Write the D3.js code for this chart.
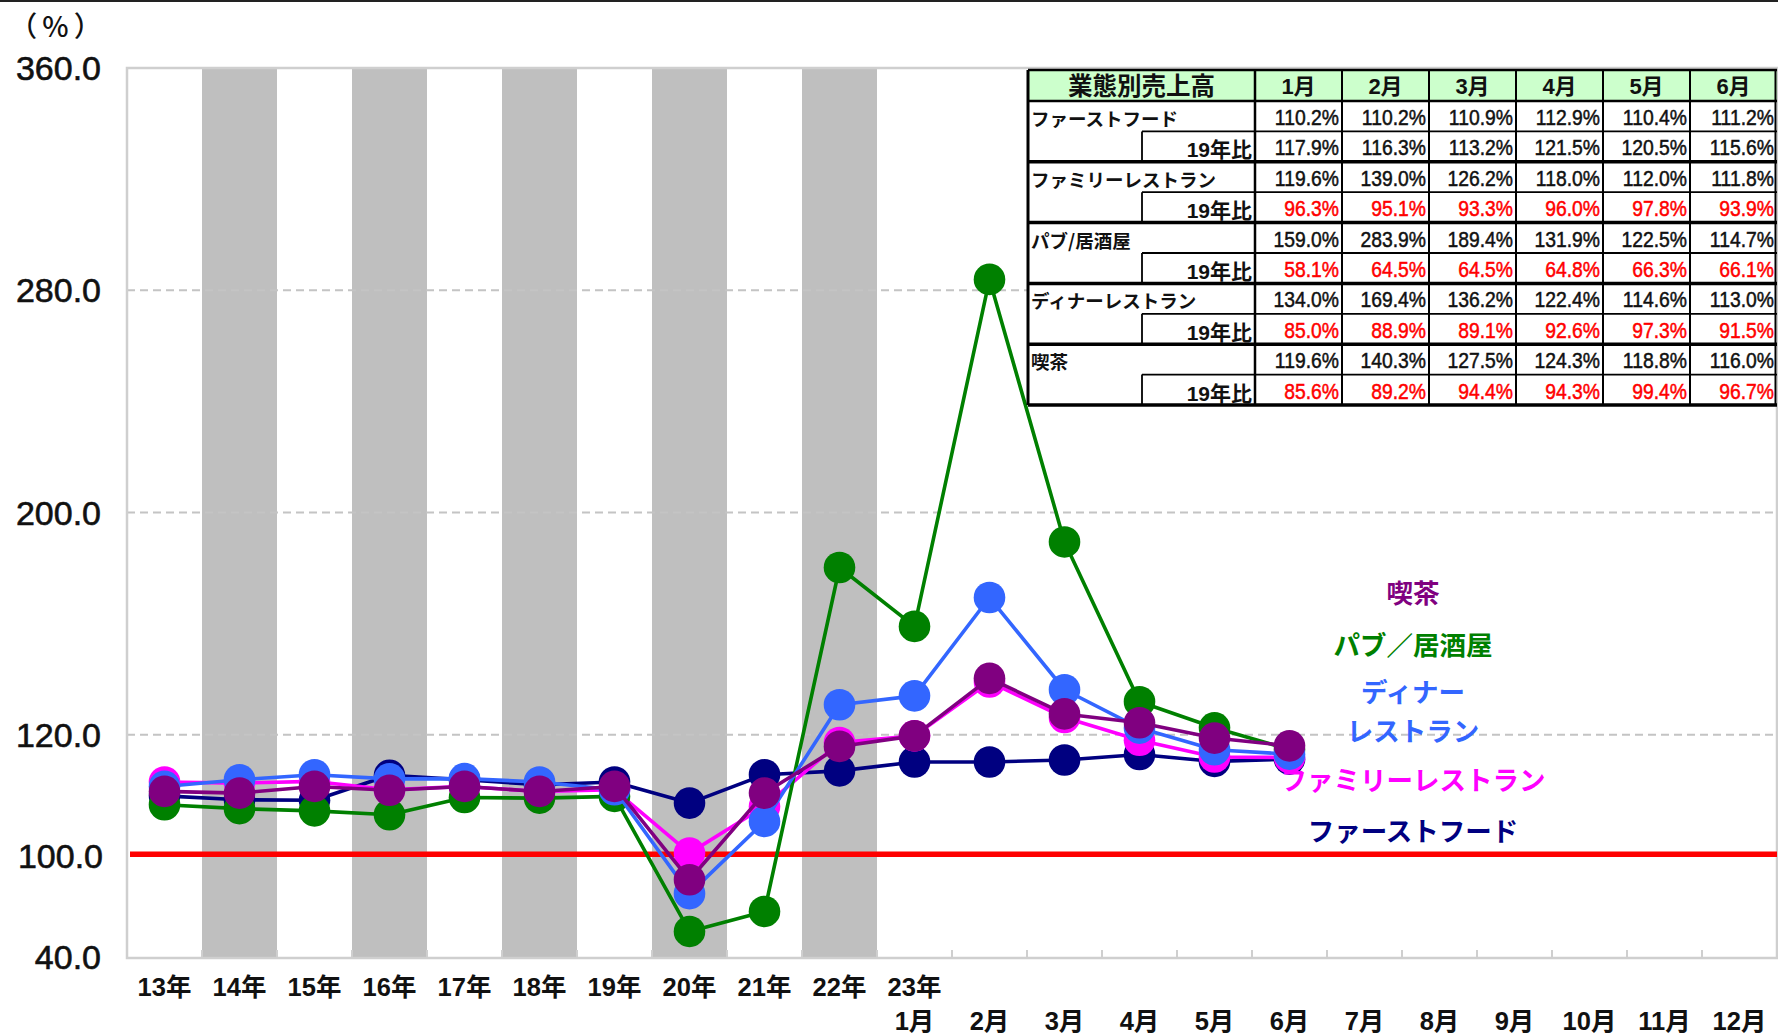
<!DOCTYPE html>
<html><head><meta charset="utf-8">
<script src="https://cdn.jsdelivr.net/npm/d3@7"></script>
<style>
html,body{margin:0;padding:0;background:#fff;}
svg{display:block;}
</style></head><body>
<svg id="chart" width="1778" height="1034"></svg>
<script>
// ---------- DATA ----------
const yearLabels = ["13年","14年","15年","16年","17年","18年","19年","20年","21年","22年"];
const monthLabels = ["1月","2月","3月","4月","5月","6月","7月","8月","9月","10月","11月","12月"];
const monthYearLabel = "23年";
const shadedYears = ["14年","16年","18年","20年","22年"];

const yTicks = [360, 280, 200, 120, 40];
const yTickLabels = ["360.0","280.0","200.0","120.0","40.0"];
const gridValues = [120, 200, 280];
const baseLineValue = 77;       // red reference line as drawn
const baseLineLabel = "100.0";
const unitLabel = "（%）";

// yearly values (13年..22年) followed by 2023 monthly values (1月..6月)
const fastFood   = [98.0, 96.6, 96.4,105.4,103.8,102.0,103.0, 95.4,105.6,107.0, 110.2,110.2,110.9,112.9,110.4,111.2];
const familyRest = [103.0,102.6,103.2,100.2,101.4, 99.6,100.2, 77.4, 94.2,117.2, 119.6,139.0,126.2,118.0,112.0,111.8];
const pubIzakaya = [94.8, 93.4, 92.6, 91.2, 97.4, 97.2, 97.8, 49.2, 56.4,180.2, 159.0,283.9,189.4,131.9,122.5,114.7];
const dinnerRest = [101.4,103.8,105.6,104.1,104.2,103.0,100.2, 62.8, 88.8,130.8, 134.0,169.4,136.2,122.4,114.6,113.0];
const cafe       = [99.6, 99.0,101.4,100.0,101.4, 99.6,101.4, 67.8, 99.0,115.8, 119.6,140.3,127.5,124.3,118.8,116.0];

const seriesNames  = ["ファーストフード","ファミリーレストラン","パブ／居酒屋","ディナーレストラン","喫茶"];
const tableNames   = ["ファーストフード","ファミリーレストラン","パブ/居酒屋","ディナーレストラン","喫茶"];
const seriesColors = ["#000080","#FF00FF","#008000","#3366FF","#800080"];
const seriesValues = [fastFood, familyRest, pubIzakaya, dinnerRest, cafe];

// table
const tableTitle = "業態別売上高";
const tableMonths = ["1月","2月","3月","4月","5月","6月"];
const ratioLabel = "19年比";
const ff19   = [117.9,116.3,113.2,121.5,120.5,115.6];
const fr19   = [96.3, 95.1, 93.3, 96.0, 97.8, 93.9];
const pub19  = [58.1, 64.5, 64.5, 64.8, 66.3, 66.1];
const din19  = [85.0, 88.9, 89.1, 92.6, 97.3, 91.5];
const cafe19 = [85.6, 89.2, 94.4, 94.3, 99.4, 96.7];
const vs19 = [ff19, fr19, pub19, din19, cafe19];

// ---------- DRAW ----------
const categories = [...yearLabels, ...monthLabels];
const svg = d3.select("#chart");
const LAT = "'Liberation Sans', Arial, 'Noto Sans CJK JP', sans-serif";
const CJK = "'Liberation Sans', 'Noto Sans CJK JP', sans-serif";
const JP = "'Noto Sans CJK JP', sans-serif";

const plot = {left:127, right:1777, top:68, bottom:957};
const x = d3.scaleBand().domain(categories).range([plot.left, plot.right]);
const y = d3.scaleLinear().domain([40, 360]).range([plot.bottom, plot.top]);

// top frame line
svg.append("line").attr("x1",0).attr("x2",1778).attr("y1",1).attr("y2",1)
  .attr("stroke","#222").attr("stroke-width",2);

// shaded bands
svg.append("g").selectAll("rect").data(shadedYears).join("rect")
  .attr("x", d => x(d)).attr("width", x.bandwidth())
  .attr("y", y(360)).attr("height", y(40) - y(360))
  .attr("fill", "#bfbfbf");

// grid lines
svg.append("g").selectAll("line").data(gridValues).join("line")
  .attr("x1", plot.left).attr("x2", plot.right)
  .attr("y1", d => y(d)).attr("y2", d => y(d))
  .attr("stroke", "#c4c4c4").attr("stroke-width", 2).attr("stroke-dasharray", "8,5");

// plot border
svg.append("rect").attr("x", plot.left).attr("y", y(360))
  .attr("width", plot.right - plot.left).attr("height", y(40) - y(360) + 1)
  .attr("fill","none").attr("stroke","#cfcfcf").attr("stroke-width",2.5);

// bottom ticks at category boundaries
svg.append("g").selectAll("line").data(categories.slice(1)).join("line")
  .attr("x1", d => x(d)).attr("x2", d => x(d))
  .attr("y1", y(40) - 7).attr("y2", y(40) + 1)
  .attr("stroke", "#cfcfcf").attr("stroke-width", 2);

// red baseline
svg.append("line").attr("x1", plot.left + 3).attr("x2", plot.right)
  .attr("y1", y(baseLineValue)).attr("y2", y(baseLineValue))
  .attr("stroke", "#FF0000").attr("stroke-width", 5.5);

// y labels
const yl = svg.append("g").attr("font-family", LAT).attr("font-size", 34).attr("fill", "#111")
  .attr("stroke", "#111").attr("stroke-width", 0.6).attr("text-anchor","end");
yTicks.forEach((v,i) => {
  yl.append("text").attr("x", 101).attr("y", y(v) + 12).text(yTickLabels[i]);
});
yl.append("text").attr("x", 103).attr("y", y(baseLineValue) + 13.5).text(baseLineLabel);
svg.append("text").attr("x", 58).attr("y", 37).attr("text-anchor","middle")
  .attr("font-family", JP).attr("font-size", 28).attr("font-weight", 500)
  .attr("letter-spacing", 5)
  .attr("fill","#111").text(unitLabel);

// x labels
const xl = svg.append("g").attr("font-family", CJK).attr("font-size", 25.5).attr("font-weight","bold")
  .attr("fill","#111").attr("text-anchor","middle");
yearLabels.forEach(c => xl.append("text").attr("x", x(c) + x.bandwidth()/2).attr("y", 996).text(c));
xl.append("text").attr("x", x(monthLabels[0]) + x.bandwidth()/2).attr("y", 996).text(monthYearLabel);
monthLabels.forEach(c => xl.append("text").attr("x", x(c) + x.bandwidth()/2).attr("y", 1030).text(c));

// series
const line = d3.line().x((d,i) => x(categories[i]) + x.bandwidth()/2).y(d => y(d));
seriesValues.forEach((vals, si) => {
  const g = svg.append("g");
  g.append("path").attr("d", line(vals)).attr("fill","none")
    .attr("stroke", seriesColors[si]).attr("stroke-width", 3.6).attr("stroke-linejoin","round");
  g.selectAll("circle").data(vals).join("circle")
    .attr("cx", (d,i) => x(categories[i]) + x.bandwidth()/2)
    .attr("cy", d => y(d)).attr("r", 15.8).attr("fill", seriesColors[si]);
});

// series labels
const labelSpecs = [
  {si:4, lines:["喫茶"], y:603},
  {si:2, lines:["パブ／居酒屋"], y:655},
  {si:3, lines:["ディナー","レストラン"], y:702},
  {si:1, lines:["ファミリーレストラン"], y:790},
  {si:0, lines:["ファーストフード"], y:841},
];
const lg = svg.append("g").attr("font-family", JP).attr("font-size", 26.5)
  .attr("font-weight","bold").attr("text-anchor","middle");
labelSpecs.forEach(s => {
  s.lines.forEach((txt,k) => lg.append("text").attr("x", 1413).attr("y", s.y + k*38.5)
    .attr("fill", seriesColors[s.si]).text(txt));
});

// table
const tb = {left:1028, labelRight:1255, subLeft:1142, right:1777, top:70, headH:31, rowH:30.4};
const colW = (tb.right - tb.labelRight) / tableMonths.length;
const tg = svg.append("g");
tg.append("rect").attr("x", tb.left).attr("y", tb.top).attr("width", tb.right - tb.left)
  .attr("height", tb.headH + tb.rowH*10).attr("fill","#fff");
tg.append("rect").attr("x", tb.left).attr("y", tb.top).attr("width", tb.right - tb.left)
  .attr("height", tb.headH).attr("fill","#CCFFCC");
// header text
tg.append("text").attr("x", (tb.left + tb.labelRight)/2).attr("y", tb.top + 25)
  .attr("text-anchor","middle").attr("font-family", JP)
  .attr("font-size", 24.5).attr("font-weight","bold").attr("fill","#111").text(tableTitle);
tableMonths.forEach((m,j) => {
  tg.append("text").attr("x", tb.labelRight + colW*(j+0.5)).attr("y", tb.top + 24)
    .attr("text-anchor","middle").attr("font-family", CJK)
    .attr("font-size", 22).attr("font-weight","bold").attr("fill","#111").text(m);
});
// value text helper (condensed)
function valText(xr, yb, str, color) {
  tg.append("text").attr("transform", `translate(${xr},${yb}) scale(0.86,1)`)
    .attr("text-anchor","end").attr("font-family", LAT).attr("font-size", 22.5)
    .attr("fill", color).attr("stroke", color).attr("stroke-width", 0.5).text(str);
}
// rows
const fmt = d3.format(".1f");
seriesValues.forEach((vals, si) => {
  const r0 = tb.top + tb.headH + tb.rowH * si * 2;
  tg.append("text").attr("x", tb.left + 3).attr("y", r0 + 25)
    .attr("font-family", JP).attr("font-size", 18.5).attr("font-weight","bold")
    .attr("fill","#111").text(tableNames[si]);
  tg.append("text").attr("x", tb.labelRight - 3).attr("y", r0 + tb.rowH + 26)
    .attr("text-anchor","end").attr("font-family", CJK).attr("font-size", 21).attr("font-weight","bold")
    .attr("fill","#111").text(ratioLabel);
  const monthVals = vals.slice(yearLabels.length);
  monthVals.forEach((v,j) => {
    valText(tb.labelRight + colW*(j+1) - 3, r0 + 24, fmt(v) + "%", v < 100 ? "#FF0000" : "#111");
    const w = vs19[si][j];
    valText(tb.labelRight + colW*(j+1) - 3, r0 + tb.rowH + 24, fmt(w) + "%", w < 100 ? "#FF0000" : "#111");
  });
  // thin mid line and sub-cell vertical
  tg.append("line").attr("x1", tb.subLeft).attr("x2", tb.right)
    .attr("y1", r0 + tb.rowH).attr("y2", r0 + tb.rowH).attr("stroke","#000").attr("stroke-width",1.8);
  tg.append("line").attr("x1", tb.subLeft).attr("x2", tb.subLeft)
    .attr("y1", r0 + tb.rowH).attr("y2", r0 + 2*tb.rowH).attr("stroke","#000").attr("stroke-width",1.8);
  // thick bottom line
  tg.append("line").attr("x1", tb.left).attr("x2", tb.right)
    .attr("y1", r0 + 2*tb.rowH).attr("y2", r0 + 2*tb.rowH).attr("stroke","#000").attr("stroke-width",3.5);
});
// header borders
tg.append("line").attr("x1", tb.left).attr("x2", tb.right).attr("y1", tb.top).attr("y2", tb.top)
  .attr("stroke","#000").attr("stroke-width",2.5);
tg.append("line").attr("x1", tb.left).attr("x2", tb.right).attr("y1", tb.top + tb.headH).attr("y2", tb.top + tb.headH)
  .attr("stroke","#000").attr("stroke-width",2.5);
// verticals
const tbBottom = tb.top + tb.headH + tb.rowH*10;
tg.append("line").attr("x1", tb.left).attr("x2", tb.left).attr("y1", tb.top).attr("y2", tbBottom)
  .attr("stroke","#000").attr("stroke-width",3);
d3.range(tableMonths.length + 1).forEach(j => {
  const xx = tb.labelRight + colW*j - (j === tableMonths.length ? 1.5 : 0);
  tg.append("line").attr("x1", xx).attr("x2", xx).attr("y1", tb.top).attr("y2", tbBottom)
    .attr("stroke","#000").attr("stroke-width", j === 0 ? 2.5 : 2);
});
</script>
</body></html>
